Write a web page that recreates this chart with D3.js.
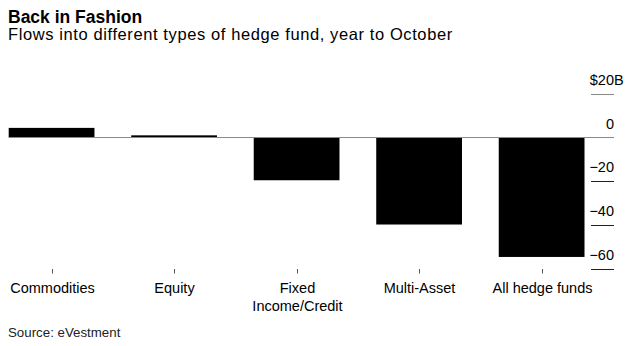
<!DOCTYPE html>
<html>
<head>
<meta charset="utf-8">
<script src="https://cdn.jsdelivr.net/npm/d3@7"></script>
<style>
  html, body { margin: 0; padding: 0; background: #fff; }
  svg { display: block; font-family: "Liberation Sans", Arial, sans-serif; }
</style>
</head>
<body>
<svg id="chart" width="635" height="346"></svg>
<script>
// Hedge fund flows, year to October ($ billions)
const categories = ["Commodities", "Equity", "Fixed Income/Credit", "Multi-Asset", "All hedge funds"];
const categoryLines = [["Commodities"], ["Equity"], ["Fixed", "Income/Credit"], ["Multi-Asset"], ["All hedge funds"]];
const flows = [4.4, 1.0, -19.5, -39.7, -54.5];
const yTicks = [20, 0, -20, -40, -60];

const svg = d3.select("#chart");

const x = d3.scaleBand()
  .domain(categories)
  .range([8.7, 584.5])
  .paddingInner(0.3)
  .paddingOuter(0);

const y = d3.scaleLinear()
  .domain([-60, 20])
  .range([269, 93.7]);

// Title block
svg.append("text")
  .attr("x", 8).attr("y", 22.7)
  .attr("font-size", 17.5).attr("font-weight", "bold").attr("fill", "#000")
  .text("Back in Fashion");
svg.append("text")
  .attr("x", 8).attr("y", 40)
  .attr("font-size", 16.5).attr("letter-spacing", 0.6).attr("fill", "#000")
  .text("Flows into different types of hedge fund, year to October");

// Right-hand value axis: short tick rules with labels sitting above them
const axisRight = 614;
const tickG = svg.append("g");
yTicks.forEach(t => {
  const yy = Math.round(y(t)) + 0.5;
  if (t !== 0) {
    tickG.append("line")
      .attr("x1", 591).attr("x2", axisRight)
      .attr("y1", yy).attr("y2", yy)
      .attr("stroke", t > 0 ? "#8a8a8a" : "#222").attr("stroke-width", 1);
  }
  tickG.append("text")
    .attr("x", axisRight).attr("y", yy - 9.5)
    .attr("text-anchor", "end")
    .attr("font-size", 14.5).attr("fill", "#000")
    .text(t === 20 ? "$20" : d3.format("d")(t));
  if (t === 20) {
    tickG.append("text")
      .attr("x", axisRight).attr("y", yy - 9.5)
      .attr("font-size", 14.5).attr("fill", "#000")
      .text("B");
  }
});

// Bars
svg.append("g").selectAll("rect")
  .data(flows)
  .join("rect")
  .attr("x", (d, i) => x(categories[i]))
  .attr("width", x.bandwidth())
  .attr("y", d => Math.min(y(d), y(0)))
  .attr("height", d => Math.abs(y(d) - y(0)))
  .attr("fill", "#000");

// Zero baseline
svg.append("line")
  .attr("x1", 8.7).attr("x2", axisRight)
  .attr("y1", y(0)).attr("y2", y(0))
  .attr("stroke", "#8a8a8a").attr("stroke-width", 1);

// Category axis: small ticks and labels
const catG = svg.append("g");
categories.forEach((c, i) => {
  const cx = Math.round(x(c) + x.bandwidth() / 2) + 0.5;
  catG.append("line")
    .attr("x1", cx).attr("x2", cx)
    .attr("y1", 269).attr("y2", 273.5)
    .attr("stroke", "#555").attr("stroke-width", 1);
  const t = catG.append("text")
    .attr("text-anchor", "middle")
    .attr("font-size", 14.5).attr("fill", "#000");
  categoryLines[i].forEach((line, j) => {
    t.append("tspan")
      .attr("x", cx).attr("y", 293 + j * 17.5)
      .text(line);
  });
});

// Source note
svg.append("text")
  .attr("x", 8).attr("y", 336.5)
  .attr("font-size", 13.3).attr("fill", "#222")
  .text("Source: eVestment");
</script>
</body>
</html>
